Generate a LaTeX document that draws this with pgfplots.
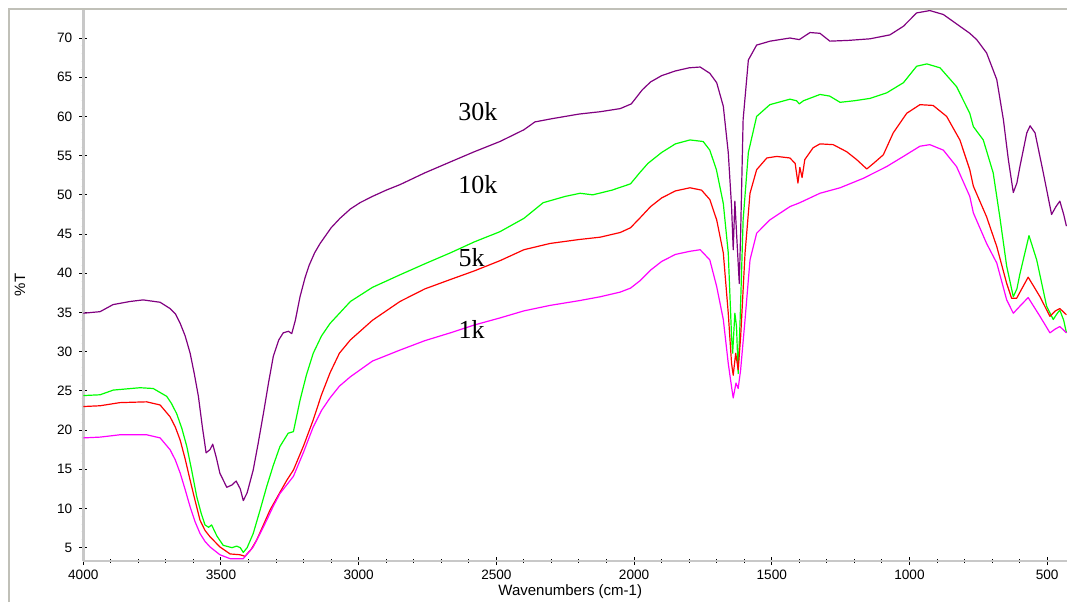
\documentclass[border=0pt]{standalone}
\usepackage{pgfplots}
\pgfplotsset{compat=1.18}
\usepackage{fontspec}
\setmainfont{Liberation Sans}
\newfontfamily\timesfont{Liberation Serif}
\definecolor{cpurple}{HTML}{800080}
\definecolor{cgreen}{HTML}{00FF00}
\definecolor{cred}{HTML}{FF0000}
\definecolor{cmag}{HTML}{FF00FF}
\definecolor{axgray}{HTML}{C8C8C8}
\definecolor{framegray}{HTML}{C0C0B8}
\begin{document}
\begin{tikzpicture}
\path[use as bounding box] (-41.65pt,-20.5pt) rectangle (491.85pt,280.5pt);
\begin{axis}[
  at={(0,0)}, anchor=south west,
  scale only axis, width=491.85pt, height=276pt,
  x dir=reverse, xmin=428, xmax=4000, ymin=3.3, ymax=73.7,
  axis lines=left, axis line style={-, draw=axgray, line width=1.3pt},
  xtick={4000,3500,...,500}, ytick={5,10,...,70},
  minor x tick num=4, minor y tick num=4,
  tick align=center, major tick length=4pt, minor tick length=1.6pt,
  tick style={black, line width=0.5pt},
  /pgf/number format/1000 sep={}, /pgf/number format/assume math mode=true,
  tick label style={font=\fontsize{6.8}{8}\selectfont},
  xticklabel style={yshift=1pt},
  xlabel={Wavenumbers (cm-1)}, ylabel={\%T},
  label style={font=\fontsize{7.5}{9}\selectfont},
  xlabel style={at={(axis description cs:0.495,0)}, anchor=center, yshift=-15.5pt},
  ylabel style={at={(axis description cs:-0.0644,0.5)}, anchor=center},
  clip=true,
  every axis plot/.append style={line width=0.6pt, line join=round},
]
\addplot[cpurple] coordinates {
(4000,34.9)(3939,35.1)(3892,36.0)(3830,36.4)(3783,36.6)(3721,36.3)(3685,35.5)(3665,34.8)(3648,33.6)(3630,32.0)(3612,29.8)(3597,27.2)(3582,24.3)(3568,20.5)(3554,17.1)(3540,17.5)(3530,18.2)(3517,16.5)(3504,14.5)(3479,12.7)(3460,13.0)(3445,13.5)(3430,12.5)(3419,11.0)(3405,12.0)(3383,14.9)(3365,18.3)(3346,22.1)(3328,25.9)(3310,29.4)(3290,31.5)(3274,32.4)(3255,32.6)(3243,32.3)(3230,34.0)(3213,37.0)(3195,39.4)(3180,41.0)(3160,42.6)(3140,43.8)(3100,45.8)(3068,47.0)(3030,48.2)(2995,49.0)(2950,49.8)(2900,50.6)(2850,51.3)(2760,52.8)(2667,54.2)(2580,55.5)(2487,56.8)(2400,58.3)(2360,59.3)(2300,59.7)(2200,60.3)(2123,60.6)(2050,61.0)(2010,61.6)(1990,62.5)(1970,63.4)(1940,64.4)(1900,65.2)(1850,65.8)(1800,66.2)(1760,66.3)(1725,65.5)(1700,64.3)(1676,61.3)(1658,55.4)(1646,48.5)(1640,43.0)(1634,49.2)(1628,45.2)(1618,38.7)(1613,45.2)(1604,59.6)(1585,67.2)(1555,69.1)(1506,69.6)(1434,70.0)(1400,69.8)(1361,70.7)(1325,70.6)(1289,69.6)(1220,69.7)(1143,69.9)(1071,70.4)(1022,71.5)(974,73.2)(926,73.5)(877,73.0)(817,71.5)(781,70.6)(756,69.8)(720,68.1)(683,64.7)(659,59.6)(641,54.5)(623,50.3)(610,51.5)(599,53.6)(574,57.9)(562,58.8)(544,57.9)(514,52.8)(484,47.5)(468,48.5)(454,49.2)(440,47.5)(430,46.0)
};
\addplot[cgreen] coordinates {
(4000,24.4)(3939,24.5)(3891,25.1)(3794,25.4)(3746,25.3)(3697,24.3)(3680,23.4)(3661,22.1)(3642,20.2)(3624,17.9)(3606,14.8)(3588,11.5)(3572,9.4)(3558,7.9)(3545,7.6)(3534,7.9)(3515,6.5)(3492,5.3)(3460,5.0)(3443,5.2)(3430,5.0)(3419,4.4)(3405,5.0)(3383,6.8)(3358,9.8)(3334,12.8)(3310,15.5)(3286,17.9)(3256,19.6)(3237,19.8)(3213,23.8)(3190,27.0)(3165,29.8)(3135,32.0)(3104,33.6)(3030,36.4)(2950,38.2)(2850,39.8)(2760,41.2)(2667,42.6)(2580,44.0)(2487,45.3)(2400,47.0)(2330,49.0)(2250,49.8)(2196,50.2)(2150,50.0)(2080,50.6)(2013,51.4)(1980,52.8)(1950,54.0)(1900,55.4)(1850,56.5)(1797,57.0)(1749,56.8)(1725,55.7)(1701,53.2)(1676,48.9)(1658,42.6)(1646,31.9)(1642,29.8)(1634,34.9)(1628,33.2)(1622,27.2)(1615,34.0)(1604,46.8)(1585,55.4)(1555,60.0)(1507,61.5)(1434,62.2)(1410,62.0)(1400,61.6)(1385,62.0)(1325,62.8)(1290,62.6)(1252,61.8)(1200,62.0)(1143,62.3)(1083,63.0)(1022,64.3)(974,66.4)(937,66.7)(889,66.2)(829,63.8)(781,60.4)(768,58.7)(732,57.0)(696,52.8)(672,47.2)(647,40.9)(623,37.0)(610,38.0)(599,39.9)(566,44.8)(538,41.7)(502,35.8)(478,34.1)(465,34.8)(454,35.3)(440,34.0)(430,32.4)
};
\addplot[cred] coordinates {
(4000,23.0)(3939,23.1)(3867,23.5)(3770,23.6)(3721,23.2)(3685,21.7)(3666,20.4)(3648,18.7)(3630,16.3)(3612,13.6)(3594,11.0)(3576,8.5)(3558,7.2)(3540,6.4)(3504,5.1)(3467,4.2)(3431,4.1)(3413,3.9)(3390,4.8)(3370,6.0)(3346,7.9)(3322,9.8)(3290,11.8)(3261,13.6)(3237,14.9)(3200,18.0)(3165,21.3)(3135,24.5)(3104,27.3)(3070,29.8)(3030,31.5)(2950,34.0)(2850,36.4)(2760,38.0)(2667,39.2)(2580,40.3)(2487,41.6)(2400,43.0)(2305,43.8)(2200,44.3)(2123,44.6)(2050,45.2)(2013,45.8)(1980,47.0)(1940,48.5)(1900,49.6)(1850,50.5)(1797,50.9)(1755,50.6)(1725,49.4)(1700,46.8)(1676,42.6)(1658,34.9)(1646,28.5)(1640,27.0)(1631,29.8)(1622,27.7)(1613,31.9)(1597,42.6)(1579,50.2)(1555,53.2)(1518,54.7)(1482,54.9)(1434,54.7)(1415,54.0)(1405,51.5)(1398,53.5)(1390,52.2)(1380,54.5)(1350,56.0)(1325,56.5)(1277,56.4)(1228,55.5)(1192,54.5)(1155,53.3)(1131,54.0)(1095,55.1)(1059,57.9)(1010,60.4)(962,61.5)(914,61.4)(865,60.0)(817,57.0)(781,53.2)(768,51.1)(720,47.2)(683,43.4)(647,38.7)(629,36.8)(611,36.8)(569,39.5)(526,37.0)(490,34.5)(470,35.2)(454,35.5)(430,34.7)
};
\addplot[cmag] coordinates {
(4000,19.0)(3939,19.1)(3867,19.4)(3770,19.4)(3721,19.0)(3685,17.5)(3666,16.2)(3648,14.5)(3630,12.4)(3612,10.2)(3594,8.3)(3576,6.8)(3558,5.8)(3540,5.1)(3504,4.1)(3467,3.6)(3419,3.6)(3383,5.1)(3358,6.8)(3334,8.5)(3310,10.3)(3286,11.9)(3237,14.1)(3200,17.2)(3165,20.4)(3135,22.5)(3104,24.1)(3070,25.6)(3030,26.8)(2950,28.8)(2850,30.2)(2760,31.4)(2667,32.4)(2580,33.4)(2487,34.3)(2400,35.2)(2305,35.9)(2200,36.5)(2123,37.0)(2050,37.6)(2013,38.1)(1980,39.0)(1940,40.4)(1900,41.5)(1850,42.4)(1797,42.8)(1760,43.0)(1725,41.7)(1700,38.3)(1676,34.1)(1658,28.5)(1646,25.5)(1640,24.1)(1630,26.0)(1622,25.3)(1613,27.7)(1597,34.1)(1579,41.7)(1555,45.1)(1507,46.8)(1434,48.5)(1398,49.0)(1325,50.2)(1252,50.9)(1168,52.1)(1083,53.6)(1022,54.9)(962,56.2)(926,56.4)(877,55.7)(829,53.6)(781,49.8)(768,47.7)(720,43.8)(683,41.3)(647,36.6)(623,34.9)(599,35.8)(569,36.9)(526,34.5)(490,32.4)(470,32.9)(454,33.2)(430,32.4)
};
\node[font=\timesfont\fontsize{13}{15}\selectfont] at (axis cs:2567,60.6) {30k};
\node[font=\timesfont\fontsize{13}{15}\selectfont] at (axis cs:2567,51.3) {10k};
\node[font=\timesfont\fontsize{13}{15}\selectfont] at (axis cs:2590,42.0) {5k};
\node[font=\timesfont\fontsize{13}{15}\selectfont] at (axis cs:2590,32.8) {1k};
\end{axis}
\draw[framegray, line width=1.2pt] (-37.15pt,-20.5pt) -- (-37.15pt,276pt) -- (491.85pt,276pt);
\end{tikzpicture}
\end{document}
